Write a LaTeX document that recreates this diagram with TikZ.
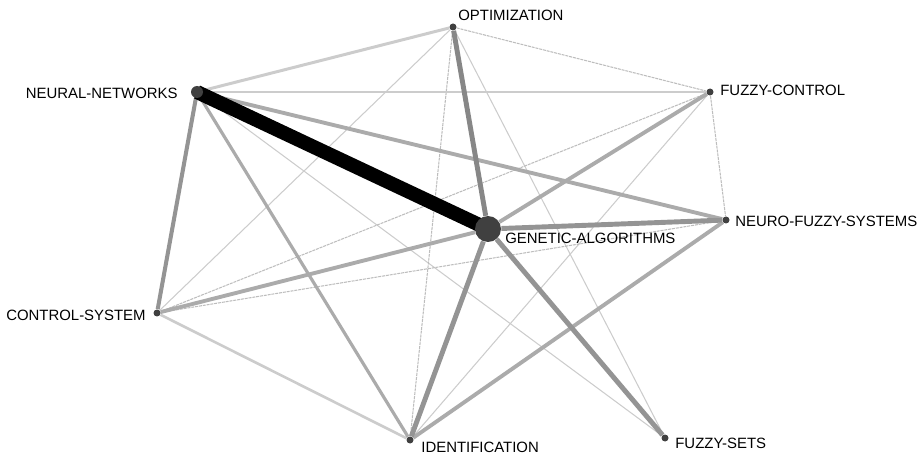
\documentclass[tikz,border=0pt]{standalone}
\usepackage{fontspec}
\setmainfont{Liberation Sans}
\usepackage{tikz}
\usetikzlibrary{backgrounds}
\definecolor{LGray}{gray}{0.8}
\definecolor{DashGray}{gray}{0.74}
\definecolor{MGray}{gray}{0.67}
\definecolor{DGray}{gray}{0.58}
\definecolor{VGray}{gray}{0.53}
\definecolor{DotGray}{gray}{0.25}
\tikzset{vertex/.style={circle,fill=DotGray,inner sep=0pt,minimum size=#1},
  vertex/.default=0.14cm,
  lab/.style={inner sep=0pt,font=\fontsize{8.5}{10}\selectfont},
  thinline/.style={LGray,line width=0.6pt},
  dashline/.style={DashGray,line width=0.6pt,dash pattern=on 1.7pt off 0.5pt},
  lightline/.style={LGray,line width=#1},
  midline/.style={MGray,line width=#1},
  darkline/.style={DGray,line width=#1}}

\begin{document}
\begin{tikzpicture}[x=0.02cm,y=-0.02cm]
\useasboundingbox (0,0) rectangle (920,459);

\node[vertex] (opt) at (453,27) {};
\node[vertex=0.24cm] (nn) at (197,92) {};
\node[vertex] (fc) at (710,92) {};
\node[vertex] (nfs) at (726,220) {};
\node[vertex=0.52cm] (ga) at (488,229) {};
\node[vertex] (cs) at (157,313) {};
\node[vertex] (id) at (410,440) {};
\node[vertex] (fs) at (665,438) {};

\node[lab,anchor=west] (optlab) at (458,15) {OPTIMIZATION};
\node[lab,anchor=east] (nnlab) at (178,93) {NEURAL-NETWORKS};
\node[lab,anchor=west] (fclab) at (720,90) {FUZZY-CONTROL};
\node[lab,anchor=west] (nfslab) at (735,221) {NEURO-FUZZY-SYSTEMS};
\node[lab,anchor=west] (galab) at (505,238) {GENETIC-ALGORITHMS};
\node[lab,anchor=east] (cslab) at (146,315) {CONTROL-SYSTEM};
\node[lab,anchor=west] (idlab) at (421,447) {IDENTIFICATION};
\node[lab,anchor=west] (fslab) at (675,443) {FUZZY-SETS};

\begin{pgfonlayer}{background}
% weak links
\draw[thinline] (opt) -- (cs);
\draw[thinline] (opt) -- (fs);
\draw[thinline] (fc) -- (id);
\draw[thinline] (nn) -- (fs);
\draw[dashline] (opt) -- (fc);
\draw[dashline] (opt) -- (id);
\draw[dashline] (fc) -- (nfs);
\draw[dashline] (cs) -- (nfs);
\draw[dashline] (fc) -- (cs);

\draw[lightline=1.7pt] (nn) -- (opt);
\draw[lightline=1.7pt] (nn) -- (fc);
\draw[lightline=1.5pt] (cs) -- (id);

\draw[midline=2.2pt] (ga) -- (fc);
\draw[midline=2.2pt] (ga) -- (cs);
\draw[midline=2.2pt] (nn) -- (nfs);
\draw[midline=1.8pt] (nn) -- (id);
\draw[midline=2.2pt] (nfs) -- (id);

\draw[darkline=2.3pt] (nn) -- (cs);
\draw[darkline=2.8pt] (ga) -- (nfs);
\draw[darkline=2.8pt] (ga) -- (fs);
\draw[darkline=2.8pt] (ga) -- (id);
\draw[VGray,line width=2.8pt] (ga) -- (opt);

% strongest link
\draw[black,line width=8pt] (nn.center) -- (ga.center);
\end{pgfonlayer}

\end{tikzpicture}
\end{document}
